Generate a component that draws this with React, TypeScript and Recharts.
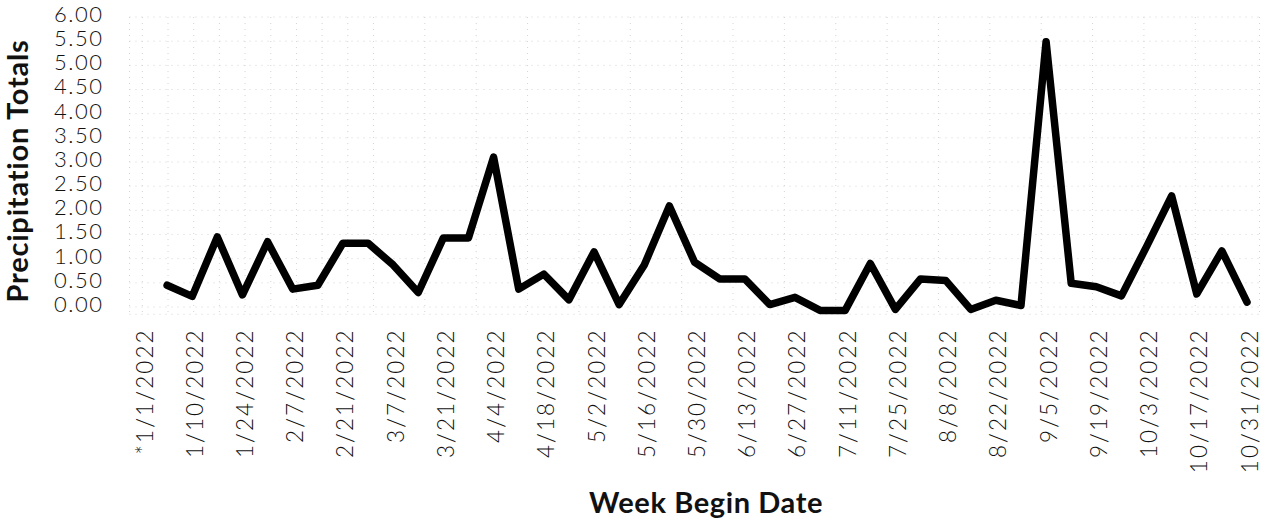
import React from 'react';
import { LineChart, Line, XAxis, YAxis, CartesianGrid, Label } from 'recharts';

const weekLabels: string[] = [
  '*1/1/2022', '1/3/2022', '1/10/2022', '1/17/2022', '1/24/2022', '1/31/2022',
  '2/7/2022', '2/14/2022', '2/21/2022', '2/28/2022', '3/7/2022', '3/14/2022',
  '3/21/2022', '3/28/2022', '4/4/2022', '4/11/2022', '4/18/2022', '4/25/2022',
  '5/2/2022', '5/9/2022', '5/16/2022', '5/23/2022', '5/30/2022', '6/6/2022',
  '6/13/2022', '6/20/2022', '6/27/2022', '7/4/2022', '7/11/2022', '7/18/2022',
  '7/25/2022', '8/1/2022', '8/8/2022', '8/15/2022', '8/22/2022', '8/29/2022',
  '9/5/2022', '9/12/2022', '9/19/2022', '9/26/2022', '10/3/2022', '10/10/2022',
  '10/17/2022', '10/24/2022', '10/31/2022',
];

const precipitation: (number | null)[] = [
  null, 0.45, 0.22, 1.45, 0.25, 1.35,
  0.37, 0.45, 1.32, 1.32, 0.87, 0.3,
  1.43, 1.43, 3.1, 0.37, 0.68, 0.15,
  1.14, 0.05, 0.87, 2.09, 0.93, 0.58,
  0.58, 0.05, 0.2, -0.07, -0.07, 0.9,
  -0.05, 0.58, 0.55, -0.05, 0.14, 0.03,
  5.49, 0.49, 0.42, 0.23, 1.25, 2.3,
  0.27, 1.16, 0.1,
];

const yTicks: number[] = [0, 0.5, 1, 1.5, 2, 2.5, 3, 3.5, 4, 4.5, 5, 5.5, 6];

const data = weekLabels.map((week, i) => ({ week, value: precipitation[i] }));
const gridBounds = weekLabels.map((_, i) => i - 0.5).concat([weekLabels.length - 0.5]);

const FONT = 'Lato, Carlito, Calibri, sans-serif';

const XTick = (props: any) => {
  const { x, y, payload } = props;
  return (
    <text
      x={x}
      y={y}
      dy={10.5}
      transform={`rotate(-90, ${x}, ${y})`}
      textAnchor="end"
      fontFamily={FONT}
      fontWeight={300}
      fontSize={22.5}
      letterSpacing={2.1}
      fill="#111"
    >
      {payload.value}
    </text>
  );
};

const YTick = (props: any) => {
  const { x, y, payload } = props;
  return (
    <text
      x={x}
      y={y}
      dy={4.9}
      textAnchor="end"
      fontFamily={FONT}
      fontWeight={300}
      fontSize={22}
      letterSpacing={1.5}
      fill="#111"
    >
      {Number(payload.value).toFixed(2)}
    </text>
  );
};

export default function App() {
  return (
    <div style={{ position: 'absolute', left: 0, top: 0, width: 1262, height: 518, background: '#fff' }}>
      <LineChart
        width={1262}
        height={518}
        data={data}
        margin={{ top: 17, right: 2.5, bottom: 0, left: 0 }}
      >
        <XAxis xAxisId="grid" type="number" domain={[-0.5, weekLabels.length - 0.5]} ticks={gridBounds} hide />
        <CartesianGrid
          xAxisId="grid"
          stroke="#d4d4d4"
          strokeDasharray="1 5"
          strokeWidth={1}
        />
        <XAxis
          dataKey="week"
          interval={1}
          padding={{ left: 12.5, right: 12.5 }}
          height={203.75}
          axisLine={false}
          tickLine={false}
          tickSize={0}
          tickMargin={14}
          tick={<XTick />}
        >
          <Label
            content={() => (
              <text
                x={706}
                y={513}
                textAnchor="middle"
                fontFamily={FONT}
                fontWeight={700}
                fontSize={29}
                letterSpacing={0.6}
                fill="#111"
              >
                Week Begin Date
              </text>
            )}
          />
        </XAxis>
        <YAxis
          type="number"
          domain={[-0.15, 6]}
          ticks={yTicks}
          width={129.5}
          axisLine={false}
          tickLine={false}
          tickSize={0}
          tickMargin={26}
          tick={<YTick />}
        >
          <Label
            content={() => (
              <text
                x={28}
                y={171}
                transform="rotate(-90, 28, 171)"
                textAnchor="middle"
                fontFamily={FONT}
                fontWeight={700}
                fontSize={29}
                letterSpacing={0.8}
                fill="#111"
              >
                Precipitation Totals
              </text>
            )}
          />
        </YAxis>
        <Line
          type="linear"
          dataKey="value"
          stroke="#000"
          strokeWidth={7.5}
          strokeLinejoin="round"
          strokeLinecap="round"
          dot={false}
          activeDot={false}
          connectNulls={false}
          isAnimationActive={false}
        />
      </LineChart>
    </div>
  );
}
